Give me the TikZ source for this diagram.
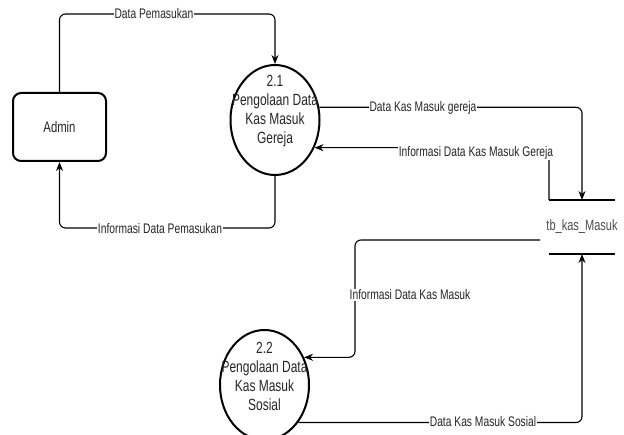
\documentclass[tikz,border=0pt]{standalone}
\usepackage{fontspec}
\setmainfont{Liberation Sans}[FakeStretch=0.74]
\usetikzlibrary{shapes.geometric,arrows.meta}
\begin{document}
\begin{tikzpicture}[x=1pt,y=-1pt,
  flow/.style={draw=black, line width=1.1pt, rounded corners=6pt, -{Stealth[length=9pt,width=7pt]}},
  lbl/.style={fill=white, inner sep=1pt, text=black!85, font=\fontsize{13.9}{16}\selectfont},
  proc/.style={ellipse, draw=black, line width=2pt, minimum width=89pt, minimum height=110pt, inner sep=0pt},
  ptext/.style={align=center, font=\fontsize{16.2}{19}\selectfont, text=black!85, inner sep=0pt},
  entity/.style={draw=black, line width=2pt, rounded corners=8pt, minimum width=93pt, minimum height=68pt, text=black!85},
  storeline/.style={draw=black, line width=1.1pt},
]
\useasboundingbox (0,0) rectangle (624,435);
\clip (0,0) rectangle (624,435);

% external entity and processes
\node[entity, font=\fontsize{15.3}{18}\selectfont] (admin) at (59.5,127) {Admin};
\node[proc] (p21) at (275,120) {};
\node[ptext] (p21t) at (275,111) {2.1\\Pengolaan Data\\Kas Masuk\\Gereja};
\node[proc] (p22) at (264.5,385) {};
\node[ptext] (p22t) at (264.5,376) {2.2\\Pengolaan Data\\Kas Masuk\\Sosial};

% data store
\node[font=\fontsize{14.9}{17}\selectfont, text=black!70, inner sep=0pt] (store) at (582,227) {tb\_kas\_Masuk};
\coordinate (stTL) at (549,200);
\coordinate (stTR) at (615,200);
\coordinate (stBL) at (549,254);
\coordinate (stBR) at (615,254);
\coordinate (stTop) at (582,200);
\coordinate (stBot) at (582,254);
\coordinate (stIn) at (540,240);
\draw[storeline] (stTL) -- (stTR);
\draw[storeline] (stBL) -- (stBR);

% routing levels
\coordinate (ytop) at (0,14);
\coordinate (ybot) at (0,228);
\coordinate (jog) at (355,300);

% flows between admin and process 2.1
\draw[flow] (admin.north) -- (admin.north |- ytop) -| (p21.north);
\node[lbl] (l1) at (154,14) {Data Pemasukan};
\draw[flow] (p21.south) -- (p21.south |- ybot) -| (admin.south);
\node[lbl] (l2) at (160,229) {Informasi Data Pemasukan};

% flows between process 2.1 and the store
\draw[flow] (p21.16) -| (stTop);
\node[lbl] (l3) at (423,108) {Data Kas Masuk gereja};
\draw[flow] (stTL) |- (p21.-35);
\node[lbl] (l4) at (476,153) {Informasi Data Kas Masuk Gereja};

% flows between process 2.2 and the store
\draw[flow] (stIn) -| (jog) |- (p22.35);
\node[lbl] (l5) at (410,295) {Informasi Data Kas Masuk};
\draw[flow] (p22.-48) -| (stBot);
\node[lbl] (l6) at (483,422) {Data Kas Masuk Sosial};
\end{tikzpicture}
\end{document}
